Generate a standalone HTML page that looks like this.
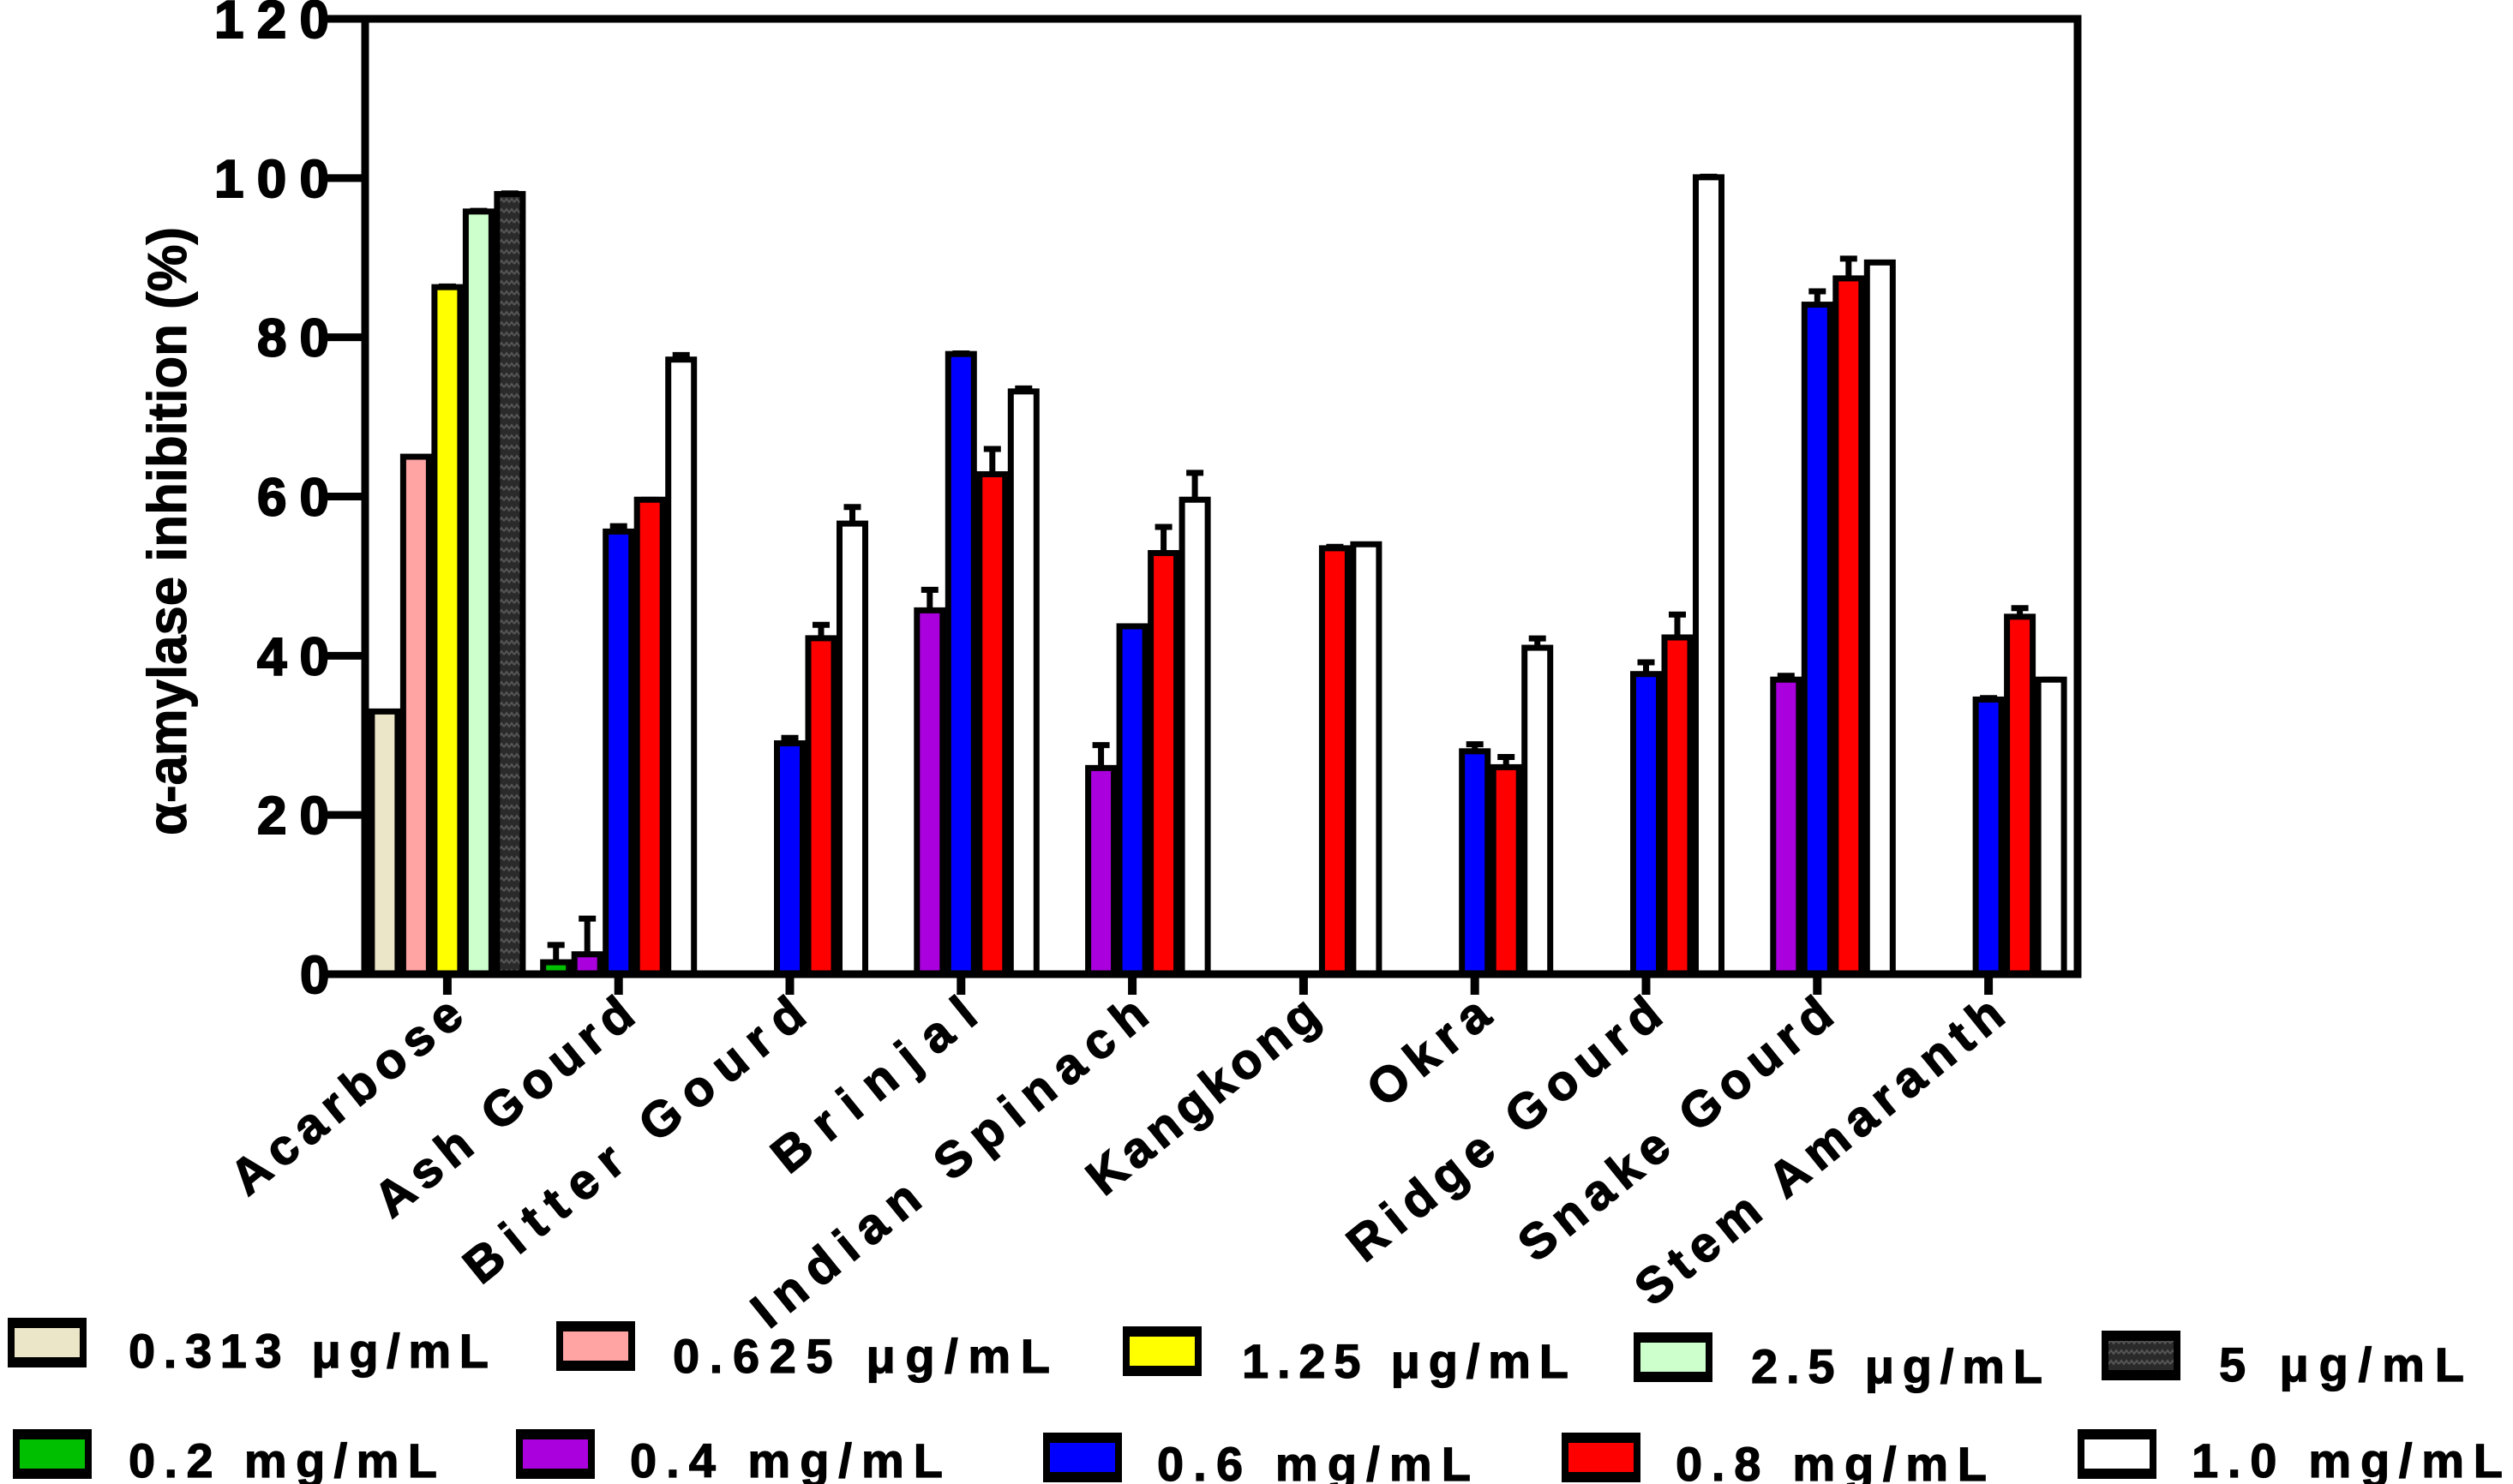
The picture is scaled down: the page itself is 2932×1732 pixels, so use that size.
<!DOCTYPE html>
<html><head><meta charset="utf-8"><style>
html,body{margin:0;padding:0;background:#fff}
svg{display:block}
text{font-family:"Liberation Sans",Arial,sans-serif;font-weight:bold;fill:#000}
</style></head><body>
<svg id="chart" width="2932" height="1732" viewBox="0 0 2932 1732" xmlns="http://www.w3.org/2000/svg">
<defs>
<pattern id="zig" width="12" height="12" patternUnits="userSpaceOnUse">
<rect width="12" height="12" fill="#2a2a2a"/>
<path d="M0 8 L3 4 L6 8 L9 4 L12 8" stroke="#555" stroke-width="2" fill="none"/>
</pattern>
</defs>
<g id="plot"></g>
</svg>
<script>
const categories = ["Acarbose","Ash Gourd","Bitter Gourd","Brinjal","Indian Spinach","Kangkong","Okra","Ridge Gourd","Snake Gourd","Stem Amaranth"];
const acarboseSeries = ["0.313 μg/mL","0.625 μg/mL","1.25 μg/mL","2.5 μg/mL","5  μg/mL"];
const acarboseValues = [33, 65, 86.3, 95.8, 98];
const acarboseErrors = [0.3, 0.2, 0.4, 0.4, 0.4];
const extractSeries = ["0.2 mg/mL","0.4 mg/mL","0.6 mg/mL","0.8 mg/mL","1.0 mg/mL"];
const extractValues = [
  [1.5, 2.5, 55.6, 59.6, 77.2],
  [null, null, 29, 42.2, 56.6],
  [null, 45.7, 77.9, 62.8, 73.2],
  [null, 25.9, 43.7, 52.9, 59.6],
  [null, null, null, 53.5, 54],
  [null, null, 28, 26, 41],
  [null, null, 37.7, 42.3, 100.1],
  [null, 37, 84.1, 87.4, 89.4],
  [null, null, 34.5, 44.9, 37]
];
const extractErrors = [
  [2.5, 4.8, 1, 0.3, 0.9],
  [0, 0, 1, 2, 2.4],
  [0, 2.9, 0.4, 3.5, 0.7],
  [0, 3.2, 0.2, 3.6, 3.7],
  [0, 0, 0, 0.5, 0.3],
  [0, 0, 1.2, 1.6, 1.5],
  [0, 0, 1.8, 3.2, 0.4],
  [0, 0.8, 2, 2.8, 0.3],
  [0, 0, 0.5, 1.4, 0.3]
];
const yTicks = [0, 20, 40, 60, 80, 100, 120];
const acarboseColors = ["#ece6c9","#ffa3a3","#ffff00","#ccffcc","url(#zig)"];
const extractColors = ["#00bf00","#aa00dd","#0000ff","#ff0000","#ffffff"];

const NS = "http://www.w3.org/2000/svg";
const g = document.getElementById("plot");
const X0 = 426, X1 = 2424, Y0 = 1137, YT = 22, YMAX = 120;
const groupW = (X1 - X0) / categories.length;
const slot = 36.5;
function yS(v){ return Y0 - (v / YMAX) * (Y0 - YT); }
function gx(i){ return X0 + groupW * (i + 0.5) - 4; }
function mk(tag, attrs, parent){ const e = document.createElementNS(NS, tag); for (const k in attrs) e.setAttribute(k, attrs[k]); (parent||g).appendChild(e); return e; }

function drawBar(ci, si, v, err, fill, name){
  if (v === null) return;
  const cx = gx(ci) + (si - 2) * slot;
  const top = yS(v);
  if (err > 0){
    const et = yS(v + err);
    const l = mk("line", {x1:cx, x2:cx, y1:top, y2:et, stroke:"#000","stroke-width":7});
    
    
    const c = mk("line", {x1:cx-10, x2:cx+10, y1:et+3, y2:et+3, stroke:"#000","stroke-width":7});
    
    
  }
  const r = mk("rect", {x:cx-15, y:top, width:30, height:Math.max(Y0-top,0), fill:fill, stroke:"#000","stroke-width":7});
  
  
}
acarboseValues.forEach((v, si) => drawBar(0, si, v, acarboseErrors[si], acarboseColors[si], 'bar-acarbose-' + si));
extractValues.forEach((row, k) => row.forEach((v, si) => drawBar(k+1, si, v, extractErrors[k][si], extractColors[si], 'bar-' + categories[k+1].toLowerCase().replace(/ /g,'-') + '-' + si)));

const ax = mk("path", {d:`M${X0} ${YT} L${X0} ${Y0} L${X1} ${Y0} L${X1} ${YT} Z`, fill:"none", stroke:"#000","stroke-width":9});


yTicks.forEach(t => {
  const y = yS(t);
  const tl = mk("line", {x1:X0-52, x2:X0, y1:y, y2:y, stroke:"#000","stroke-width":9});
  
  
  const s = String(t);
  const w = s.length === 1 ? 34 : (s.length === 2 ? 84 : 134);
  const tx = mk("text", {x:384 - w, y:y+22, "font-size":62, textLength:w, lengthAdjust:"spacing", stroke:"#000","stroke-width":2});
  tx.textContent = s;
  
  
});
categories.forEach((c, i) => {
  const x = gx(i);
  const tk = mk("line", {x1:x, x2:x, y1:Y0, y2:Y0+24, stroke:"#000","stroke-width":10});
  
  
  const tx = mk("text", {x:0, y:0, "font-size":58, "text-anchor":"end", textLength:c.length*41, lengthAdjust:"spacing", stroke:"#000","stroke-width":1.5, transform:`translate(${x+22},${Y0+54}) rotate(-39)`});
  tx.textContent = c;
  
  
});
const yt = mk("text", {x:0, y:0, "font-size":64, "text-anchor":"middle", textLength:710, lengthAdjust:"spacingAndGlyphs", stroke:"#000","stroke-width":1, transform:"translate(217,620) rotate(-90)"});
yt.textContent = "α-amylase inhibition (%)";



const legendBoxes = [[9,1540],[649,1544],[1310,1550],[1906,1557],[2452,1555],[15,1670],[602,1670],[1217,1674],[1822,1674],[2424,1670]];
const legendText = [[150,570,1596],[785,1225,1602],[1449,1830,1608],[2043,2383,1614],[2589,2875,1612],[150,510,1724],[735,1100,1724],[1350,1716,1728],[1955,2318,1728],[2557,2920,1724]];
const labels = acarboseSeries.concat(extractSeries);
const fills = acarboseColors.concat(extractColors);
labels.forEach((lab, i) => {
  const [bx, by] = legendBoxes[i];
  const r = mk("rect", {x:bx+4, y:by+4, width:84, height:46, fill:fills[i], stroke:"#000","stroke-width":8});
  
  
  mk("line", {x1:bx, x2:bx+92, y1:by+4, y2:by+4, stroke:"#000","stroke-width":12});
  mk("line", {x1:bx, x2:bx+92, y1:by+50, y2:by+50, stroke:"#000","stroke-width":12});
  const [tx0, tx1, ty] = legendText[i];
  const t = mk("text", {x:tx0, y:ty, "font-size":56, textLength:tx1-tx0, lengthAdjust:"spacing", stroke:"#000","stroke-width":1.2});
  t.textContent = lab;
  
  
});
</script>
</body></html>
